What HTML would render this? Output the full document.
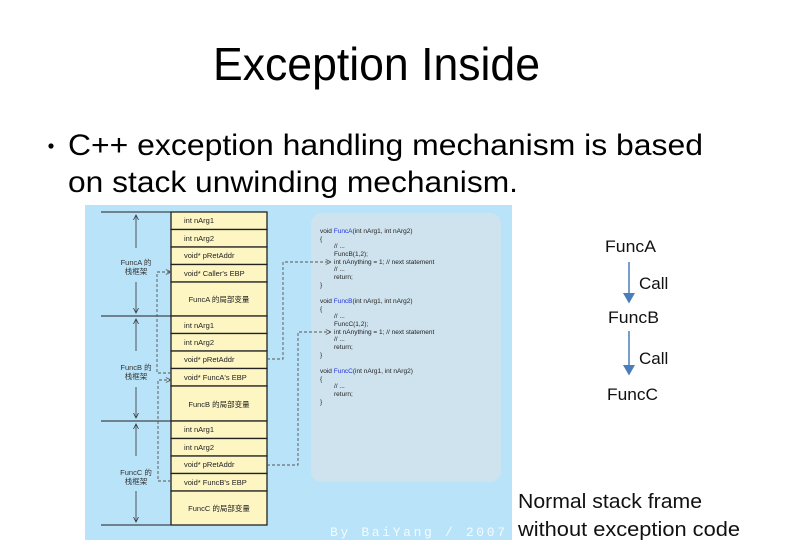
<!DOCTYPE html>
<html><head><meta charset="utf-8"><style>
html,body{margin:0;padding:0;background:#fff;width:803px;height:557px;overflow:hidden}
svg{display:block}
text{font-family:"Liberation Sans","Noto Sans CJK SC",sans-serif}
</style></head><body>
<svg width="803" height="557" viewBox="0 0 803 557" xmlns="http://www.w3.org/2000/svg">
<defs>
<marker id="ah" markerWidth="6" markerHeight="6" refX="5" refY="3" orient="auto"><path d="M0,0 L6,3 L0,6" fill="none" stroke="#555" stroke-width="1"/></marker>
<marker id="bh" markerWidth="8" markerHeight="8" refX="6" refY="4" orient="auto"><path d="M0,0 L7,4 L0,8 Z" fill="#4a7ebb"/></marker>
<marker id="vh" markerWidth="6" markerHeight="6" refX="5" refY="3" orient="auto" markerUnits="userSpaceOnUse"><path d="M0,0.5 L5,3 L0,5.5" fill="none" stroke="#333" stroke-width="0.8"/></marker>
</defs>
<text x="213" y="80" font-size="46" textLength="327" lengthAdjust="spacingAndGlyphs">Exception Inside</text>
<circle cx="51" cy="146" r="2.6" fill="#000"/>
<text x="68" y="155" font-size="30" textLength="635" lengthAdjust="spacingAndGlyphs">C++ exception handling mechanism is based</text>
<text x="68" y="192" font-size="30" textLength="450" lengthAdjust="spacingAndGlyphs">on stack unwinding mechanism.</text>

<rect x="85" y="205" width="427" height="335" fill="#b9e3f8"/>
<rect x="311" y="213" width="190" height="269" rx="11" fill="#cfe3ee"/>

<g stroke="#222" stroke-width="1.3" fill="#fdf6c3">
<rect x="171" y="212" width="96" height="17.5"/><rect x="171" y="229.5" width="96" height="17.5"/><rect x="171" y="247" width="96" height="17.5"/><rect x="171" y="264.5" width="96" height="17.5"/><rect x="171" y="282" width="96" height="34"/>
<rect x="171" y="316" width="96" height="17.5"/><rect x="171" y="333.5" width="96" height="17.5"/><rect x="171" y="351" width="96" height="17.5"/><rect x="171" y="368.5" width="96" height="17.5"/><rect x="171" y="386" width="96" height="35"/>
<rect x="171" y="421" width="96" height="17.5"/><rect x="171" y="438.5" width="96" height="17.5"/><rect x="171" y="456" width="96" height="17.5"/><rect x="171" y="473.5" width="96" height="17.5"/><rect x="171" y="491" width="96" height="34"/>
</g>
<g font-size="7.5" fill="#222">
<text x="184" y="223">int nArg1</text><text x="184" y="241">int nArg2</text><text x="184" y="258">void* pRetAddr</text><text x="184" y="276">void* Caller's EBP</text><text x="219" y="302" text-anchor="middle">FuncA 的局部变量</text>
<text x="184" y="328">int nArg1</text><text x="184" y="345">int nArg2</text><text x="184" y="362">void* pRetAddr</text><text x="184" y="380">void* FuncA's EBP</text><text x="219" y="407" text-anchor="middle">FuncB 的局部变量</text>
<text x="184" y="432">int nArg1</text><text x="184" y="450">int nArg2</text><text x="184" y="467">void* pRetAddr</text><text x="184" y="485">void* FuncB's EBP</text><text x="219" y="511" text-anchor="middle">FuncC 的局部变量</text>
</g>
<g stroke="#222" stroke-width="1">
<line x1="101" y1="212" x2="171" y2="212"/><line x1="101" y1="316" x2="171" y2="316"/><line x1="101" y1="421" x2="171" y2="421"/><line x1="101" y1="525" x2="171" y2="525"/>
</g>
<g stroke="#333" stroke-width="0.8" marker-end="url(#vh)">
<line x1="136" y1="248" x2="136" y2="215"/><line x1="136" y1="282" x2="136" y2="313"/>
<line x1="136" y1="351" x2="136" y2="319"/><line x1="136" y1="387" x2="136" y2="418"/>
<line x1="136" y1="456" x2="136" y2="424"/><line x1="136" y1="491" x2="136" y2="522"/>
</g>
<g font-size="7.5" fill="#333" text-anchor="middle">
<text x="136" y="265">FuncA 的</text><text x="136" y="274">栈框架</text>
<text x="136" y="370">FuncB 的</text><text x="136" y="379">栈框架</text>
<text x="136" y="475">FuncC 的</text><text x="136" y="484">栈框架</text>
</g>
<g stroke="#555" stroke-width="0.9" stroke-dasharray="3,2" fill="none" marker-end="url(#ah)">
<polyline points="171,373 157,373 157,272 170,272"/>
<polyline points="171,481 158,481 158,380 170,380"/>
<polyline points="267,359 283,359 283,262 330,262"/>
<polyline points="267,465 298,465 298,332 330,332"/>
</g>
<g font-size="6.5" fill="#222">
<text x="320" y="233">void <tspan fill="#2233dd">FuncA</tspan>(int nArg1, int nArg2)</text>
<text x="320" y="241">{</text><text x="334" y="248">// ...</text><text x="334" y="256">FuncB(1,2);</text><text x="334" y="264">int nAnything = 1; // next statement</text><text x="334" y="271">// ...</text><text x="334" y="279">return;</text><text x="320" y="287">}</text>
<text x="320" y="303">void <tspan fill="#2233dd">FuncB</tspan>(int nArg1, int nArg2)</text>
<text x="320" y="311">{</text><text x="334" y="318">// ...</text><text x="334" y="326">FuncC(1,2);</text><text x="334" y="334">int nAnything = 1; // next statement</text><text x="334" y="341">// ...</text><text x="334" y="349">return;</text><text x="320" y="357">}</text>
<text x="320" y="373">void <tspan fill="#2233dd">FuncC</tspan>(int nArg1, int nArg2)</text>
<text x="320" y="381">{</text><text x="334" y="388">// ...</text><text x="334" y="396">return;</text><text x="320" y="404">}</text>
</g>
<text x="330" y="536" font-size="13" fill="#f4fbff" textLength="175" lengthAdjust="spacing" style="font-family:'Liberation Mono',monospace">By BaiYang / 2007</text>

<g font-size="17" fill="#111">
<text x="605" y="252" textLength="51" lengthAdjust="spacingAndGlyphs">FuncA</text><text x="639" y="289">Call</text>
<text x="608" y="323" textLength="51" lengthAdjust="spacingAndGlyphs">FuncB</text><text x="639" y="364">Call</text>
<text x="607" y="400" textLength="51" lengthAdjust="spacingAndGlyphs">FuncC</text>
</g>
<g stroke="#4a7ebb" stroke-width="1.5" marker-end="url(#bh)">
<line x1="629" y1="262" x2="629" y2="302"/><line x1="629" y1="331" x2="629" y2="374"/>
</g>
<text x="518" y="508" font-size="20" fill="#111" textLength="184" lengthAdjust="spacingAndGlyphs">Normal stack frame</text>
<text x="518" y="536" font-size="20" fill="#111" textLength="222" lengthAdjust="spacingAndGlyphs">without exception code</text>
</svg>
</body></html>
